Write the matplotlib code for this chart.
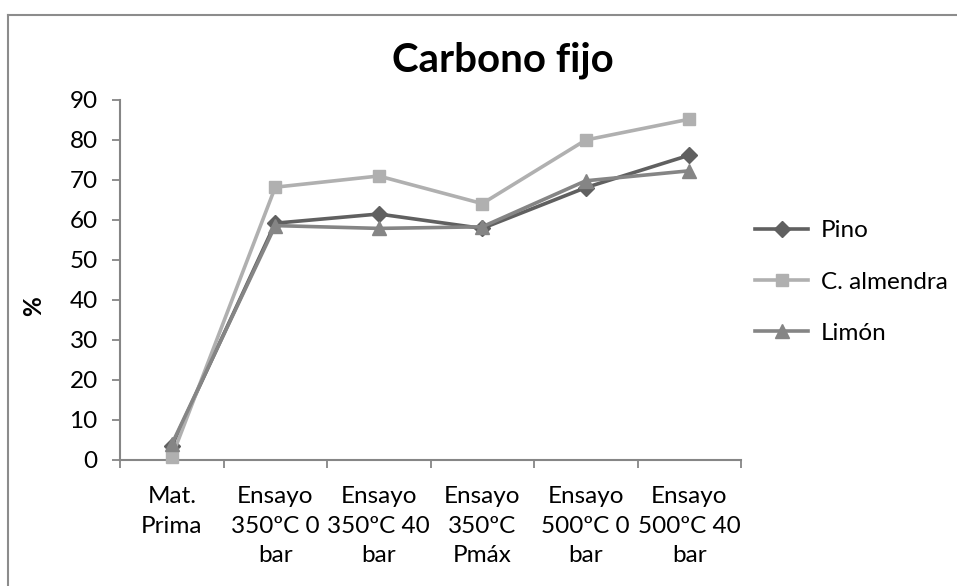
import matplotlib
matplotlib.use("Agg")
import matplotlib.pyplot as plt
from matplotlib.lines import Line2D
import numpy as np

plt.rcParams['font.family'] = ['Lato', 'DejaVu Sans']

categories = ["Mat.\nPrima", "Ensayo\n350ºC 0\nbar", "Ensayo\n350ºC 40\nbar",
              "Ensayo\n350ºC\nPmáx", "Ensayo\n500ºC 0\nbar", "Ensayo\n500ºC 40\nbar"]
pino = [3.5, 59.2, 61.5, 57.9, 68.1, 76.2]
almendra = [0.7, 68.2, 71.0, 64.1, 80.0, 85.2]
limon = [3.9, 58.6, 57.9, 58.3, 69.8, 72.3]
series_names = ["Pino", "C. almendra", "Limón"]
yticks = [0, 10, 20, 30, 40, 50, 60, 70, 80, 90]

W, H = 957, 586
fig = plt.figure(figsize=(W / 100, H / 100), dpi=100)

# chart border (top & left visible)
fig.add_artist(Line2D([8 / W, 8 / W], [0, 1 - 15 / H], transform=fig.transFigure,
                      color="#8c8c8c", lw=1.5))
fig.add_artist(Line2D([8 / W, 1], [1 - 15 / H, 1 - 15 / H], transform=fig.transFigure,
                      color="#8c8c8c", lw=1.5))

ax = fig.add_axes([120 / W, (H - 460) / H, 621 / W, 360 / H])
x = np.arange(len(categories))

cols = ["#606060", "#b0b0b0", "#858585"]
markers = ["D", "s", "^"]
msizes = [8, 9, 9.5]
for vals, name, c, m, ms in zip([pino, almendra, limon], series_names, cols, markers, msizes):
    ax.plot(x, vals, color=c, lw=2.6, marker=m, markersize=ms, label=name,
            markeredgecolor=c, clip_on=False, zorder=3)

ax.set_xlim(-0.5, len(categories) - 0.5)
ax.set_ylim(0, 90)
ax.set_yticks(yticks)
ax.set_xticks(np.arange(-0.5, len(categories)), minor=False)
ax.set_xticklabels([])
ax.set_xticks(x, minor=True)
ax.set_xticklabels(categories, minor=True, fontsize=17.5, linespacing=1.5)
ax.tick_params(axis='x', which='minor', length=0, pad=19)
ax.tick_params(axis='x', which='major', length=6, width=1.3, color="#868686", direction='out')
ax.tick_params(axis='y', length=6, width=1.3, color="#868686", labelsize=17.5, pad=10)

for s in ['top', 'right']:
    ax.spines[s].set_visible(False)
for s in ['left', 'bottom']:
    ax.spines[s].set_color("#868686")
    ax.spines[s].set_linewidth(1.5)

ax.set_ylabel("%", fontsize=17.5, fontweight='bold', labelpad=0)
ax.yaxis.set_label_coords(45 / W, 280 / H, transform=fig.transFigure)

fig.text(503 / W, 1 - 60 / H, "Carbono fijo", fontsize=29, fontweight='bold',
         ha='center', va='center')

fig.legend(loc='center left', bbox_to_anchor=(755 / W, 1 - 282 / H), frameon=False,
           fontsize=17.5, handlelength=2.2, handletextpad=0.5, labelspacing=1.25,
           borderpad=0, borderaxespad=0)

fig.savefig("out.png", dpi=100)
